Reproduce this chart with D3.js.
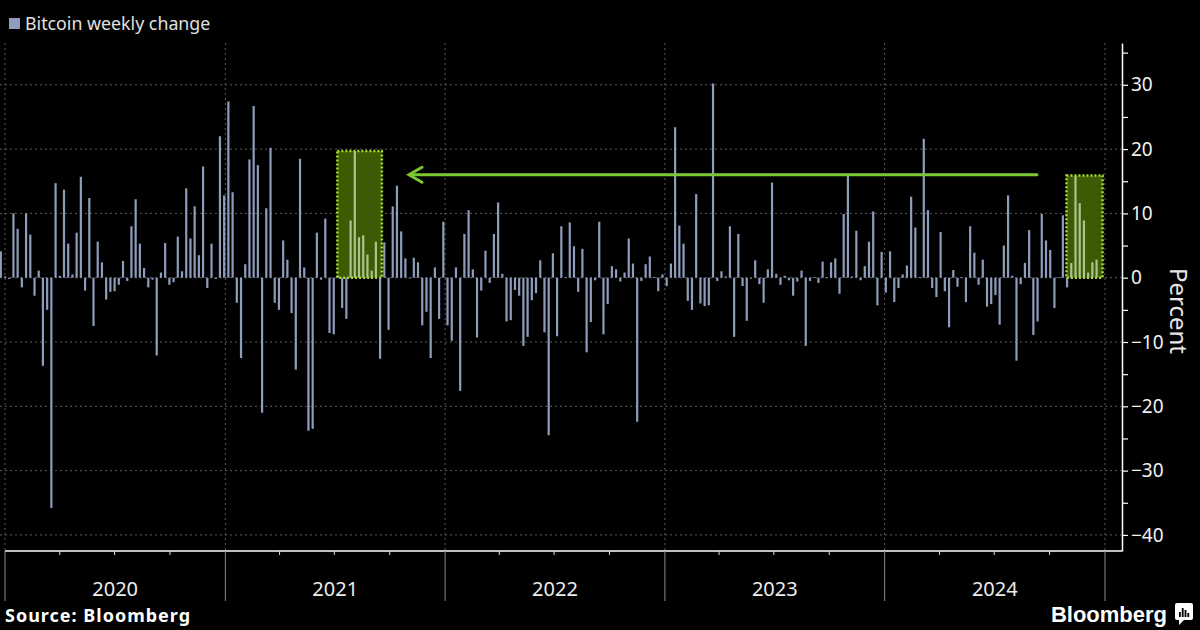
<!DOCTYPE html>
<html>
<head>
<meta charset="utf-8">
<script src="https://cdn.jsdelivr.net/npm/d3@7"></script>
<style>
  body { margin: 0; background: #000; }
  svg { display: block; font-family: "Noto Sans", "Liberation Sans", Arial, sans-serif; }
</style>
</head>
<body>
<script>
// weekly bitcoin % change, first bar is the week of 2019-12-25
let startDate = new Date(2019, 11, 25);
let weeklyChange = [
  4.1, 0.2, -0.2, 10.0, 7.6, -1.5, 10.0, 6.7, -2.8, 1.1, -13.7, -5.0, -35.8, 14.7, 0.3, 13.7,
  5.3, 0.5, 7.0, 15.7, -2.0, 12.4, -7.5, 5.6, 2.4, -3.4, -2.2, -2.1, -1.1, 2.6, -0.5, 8.0,
  12.2, 5.3, 1.5, -1.5, -0.3, -12.1, 0.8, 5.4, -1.1, -0.7, 6.4, 1.0, 13.9,
  6.1, 11.1, 3.5, 17.3, -1.6, 5.3, -0.2, 22.0, 12.8, 27.4, 13.3, -3.9, -12.5, 2.1, 18.4, 26.7,
  17.5, -21.0, 10.8, 20.2, -3.9, -5.0, 5.8, 2.8, -5.5, -14.3, 18.5, 1.6, -23.8, -23.5, 7.0, -0.3,
  9.2, -8.6, -8.8, 0.3, -4.7, -6.4, 8.9, 19.7, 6.3, 6.6, 3.6, 1.1,
  5.6, -12.6, 5.5, -8.1, 11.1, 14.3, 7.2, 3.0, -0.1, 3.1, 2.4, -7.4, -5.3, -12.5, 1.6, -6.4,
  8.7, -7.4, -9.8, 1.6, -17.6, 6.8, 10.5, 1.3, -9.3, -2.0, 4.2, -0.8, 6.8, 11.7, 0.6, -6.8,
  -6.6, -1.9, -2.8, -10.6, -9.2, -3.5, -2.4, 2.7, -8.5, -24.5, 3.8, -9.1,
  8.0, 0.1, 8.6, 4.9, -2.2, 4.5, -11.6, -6.9, -0.4, 8.7, -8.8, -4.1, 1.8, 1.3, -0.6, 0.8,
  6.1, 2.2, -22.4, -0.5, 2.1, 3.3, 0.1, -2.1, 0.5, -1.3, 2.2, 23.4, 8.1, 5.3, -3.6, -5.0,
  13.0, -4.0, -4.4, -4.3, 30.2, -0.5, 1.0, 0.2, 8.0, -9.2, 6.8, -1.3,
  -6.7, -0.1, 2.7, -1.0, -3.9, 1.3, 14.8, 0.6, -1.1, 0.3, -0.4, -2.8, -0.6, 1.1, -10.6, -0.5,
  0.1, -0.8, 2.5, 0.1, 2.4, 3.0, -2.5, 9.9, 15.9, 0.2, 7.3, -0.4, 1.8, 5.6, 10.3, -4.3,
  4.0, -2.3, 4.1, -3.8, -1.6, 0.5, 1.9, 12.6, 7.8, 0.1, 21.6, 10.5,
  -1.6, -3.0, 7.1, -2.1, -7.7, 1.2, -1.4, 0.1, -3.8, 8.0, 3.9, -1.1, 2.8, -4.5, -4.1, -2.7,
  -7.3, 5.0, 12.8, 0.3, -12.9, -1.0, 2.3, 7.4, -8.9, -6.8, 9.9, 5.8, 4.3, -4.7, 0.1, 9.7,
  -1.5, 2.3, 15.8, 11.6, 8.9, 0.8, 2.4, 2.8
];
let years = [2020, 2021, 2022, 2023, 2024];
let yTicks = [-40, -30, -20, -10, 0, 10, 20, 30];

// highlighted rallies: [from, to, top %]
let highlights = [
  [new Date(2021, 6, 6), new Date(2021, 8, 18), 19.7],
  [new Date(2024, 9, 29), new Date(2024, 11, 28), 15.9]
];
// arrow from the latest rally back to 2021
let arrowFrom = [new Date(2024, 8, 10), 16];
let arrowTo = [new Date(2021, 10, 2), 16];

let data = weeklyChange.map(function(v, i) {
  return {date: d3.timeDay.offset(startDate, 7 * i), value: v};
});

let W = 1200, H = 630;
let plotLeft = 0, plotRight = 1122, plotTop = 43, plotBottom = 551;

let xScale = d3.scaleTime()
  .domain([new Date(2020, 0, 1), new Date(2025, 0, 1)])
  .range([5, 1105]);
let yScale = d3.scaleLinear().domain([-42.5, 36.5]).range([plotBottom, plotTop]);

let svg = d3.select("body").append("svg")
  .attr("width", W)
  .attr("height", H);

svg.append("rect").attr("width", W).attr("height", H).attr("fill", "#000");

// gridlines
svg.append("g").selectAll("line")
    .data(yTicks)
  .enter().append("line")
    .attr("x1", plotLeft).attr("x2", plotRight)
    .attr("y1", d => yScale(d)).attr("y2", d => yScale(d))
    .attr("stroke", "#5c5c5c")
    .attr("stroke-dasharray", "2,3");

let yearBounds = years.concat([2025]).map(y => new Date(y, 0, 1));
svg.append("g").selectAll("line")
    .data(yearBounds)
  .enter().append("line")
    .attr("x1", d => xScale(d)).attr("x2", d => xScale(d))
    .attr("y1", plotTop).attr("y2", plotBottom)
    .attr("stroke", "#5c5c5c")
    .attr("stroke-dasharray", "2,3");

// highlight boxes (behind bars)
let inHighlight = d => highlights.some(h => d.date >= h[0] && d.date <= h[1]);

svg.append("g").selectAll("rect")
    .data(highlights)
  .enter().append("rect")
    .attr("x", d => xScale(d[0]))
    .attr("y", d => yScale(d[2]))
    .attr("width", d => xScale(d[1]) - xScale(d[0]))
    .attr("height", d => yScale(0) - yScale(d[2]))
    .attr("fill", "#3d5b04")
    .attr("stroke", "#a6dc2c")
    .attr("stroke-width", 2.5)
    .attr("stroke-dasharray", "2,2");

// bars
let barW = 2.2;
svg.append("g").selectAll("rect")
    .data(data)
  .enter().append("rect")
    .attr("x", d => xScale(d.date) - barW / 2)
    .attr("y", d => yScale(Math.max(0, d.value)))
    .attr("width", barW)
    .attr("height", d => Math.max(0.8, Math.abs(yScale(d.value) - yScale(0))))
    .attr("fill", d => (inHighlight(d) && d.value > 0) ? "#a9c48c" : "#8e9dbc");

// arrow
let ax1 = xScale(arrowFrom[0]), ay = yScale(arrowFrom[1]), ax2 = xScale(arrowTo[0]);
let arrow = svg.append("g")
  .attr("stroke", "#7cc934")
  .attr("stroke-width", 3)
  .attr("fill", "none")
  .attr("stroke-linecap", "round");
arrow.append("line").attr("x1", ax1).attr("x2", ax2 + 1).attr("y1", ay).attr("y2", ay);
arrow.append("path")
  .attr("d", "M" + (ax2 + 13) + "," + (ay - 7.5) + "L" + ax2 + "," + ay + "L" + (ax2 + 13) + "," + (ay + 7.5));

// right axis
let yAxis = d3.axisRight(yScale)
  .tickValues(d3.range(-40, 36, 5))
  .tickSize(6)
  .tickSizeOuter(0)
  .tickPadding(3)
  .tickFormat(d => d % 10 === 0 ? d3.format("d")(d).replace("-", "- ") : "");
let gy = svg.append("g")
  .attr("transform", "translate(" + plotRight + ",0)")
  .call(yAxis);
gy.select(".domain").attr("stroke", "#fff").attr("stroke-width", 1.5);
gy.selectAll(".tick line").attr("stroke", "#fff").attr("stroke-width", 1.2);
gy.selectAll(".tick text")
  .attr("fill", "#f0f0f0")
  .attr("font-size", 19)
  .attr("font-family", "Noto Sans, Liberation Sans, sans-serif");

svg.append("text")
  .attr("transform", "translate(1170,311) rotate(90)")
  .attr("text-anchor", "middle")
  .attr("fill", "#e6e6e6")
  .attr("font-size", 24)
  .text("Percent");

// bottom axis
svg.append("line")
  .attr("x1", 5).attr("x2", plotRight)
  .attr("y1", plotBottom).attr("y2", plotBottom)
  .attr("stroke", "#fff").attr("stroke-width", 1.5);

let quarters = d3.timeMonth.every(3).range(new Date(2020, 0, 1), new Date(2025, 0, 2))
  .filter(d => d.getMonth() !== 0);
svg.append("g").selectAll("line")
    .data(quarters)
  .enter().append("line")
    .attr("x1", d => xScale(d)).attr("x2", d => xScale(d))
    .attr("y1", plotBottom).attr("y2", plotBottom + 4)
    .attr("stroke", "#ddd");

svg.append("g").selectAll("line")
    .data(yearBounds)
  .enter().append("line")
    .attr("x1", d => xScale(d)).attr("x2", d => xScale(d))
    .attr("y1", plotBottom).attr("y2", plotBottom + 50)
    .attr("stroke", "#8a8a8a");

svg.append("g").selectAll("text")
    .data(years)
  .enter().append("text")
    .attr("x", d => (xScale(new Date(d, 0, 1)) + xScale(new Date(d + 1, 0, 1))) / 2)
    .attr("y", 596)
    .attr("text-anchor", "middle")
    .attr("fill", "#ececec")
    .attr("font-size", 20)
    .text(d => d);

// legend
svg.append("rect")
  .attr("x", 9).attr("y", 18).attr("width", 11).attr("height", 11)
  .attr("fill", "#8e9dbc");
svg.append("text")
  .attr("x", 25).attr("y", 30)
  .attr("fill", "#e0e0e0")
  .attr("font-size", 17.8)
  .text("Bitcoin weekly change");

// footer
svg.append("text")
  .attr("x", 5).attr("y", 622)
  .attr("fill", "#fff")
  .attr("font-size", 18)
  .attr("font-weight", "bold")
  .attr("letter-spacing", 1)
  .text("Source: Bloomberg");

svg.append("text")
  .attr("x", 1167).attr("y", 622)
  .attr("text-anchor", "end")
  .attr("fill", "#fff")
  .attr("font-size", 22)
  .attr("font-weight", "bold")
  .attr("font-family", "Liberation Sans, Arial, sans-serif")
  .text("Bloomberg");

let logo = svg.append("g").attr("transform", "translate(1175,603)");
logo.append("rect").attr("width", 18).attr("height", 17).attr("rx", 2).attr("fill", "#fff");
logo.append("path").attr("d", "M4,17 L4,22 L9,17 Z").attr("fill", "#fff");
logo.selectAll(".b")
    .data([5, 9, 7, 4])
  .enter().append("rect")
    .attr("x", (d, i) => 4 + i * 2.8)
    .attr("y", d => 14 - d)
    .attr("width", 1.8)
    .attr("height", d => d)
    .attr("fill", "#000");
</script>
</body>
</html>
